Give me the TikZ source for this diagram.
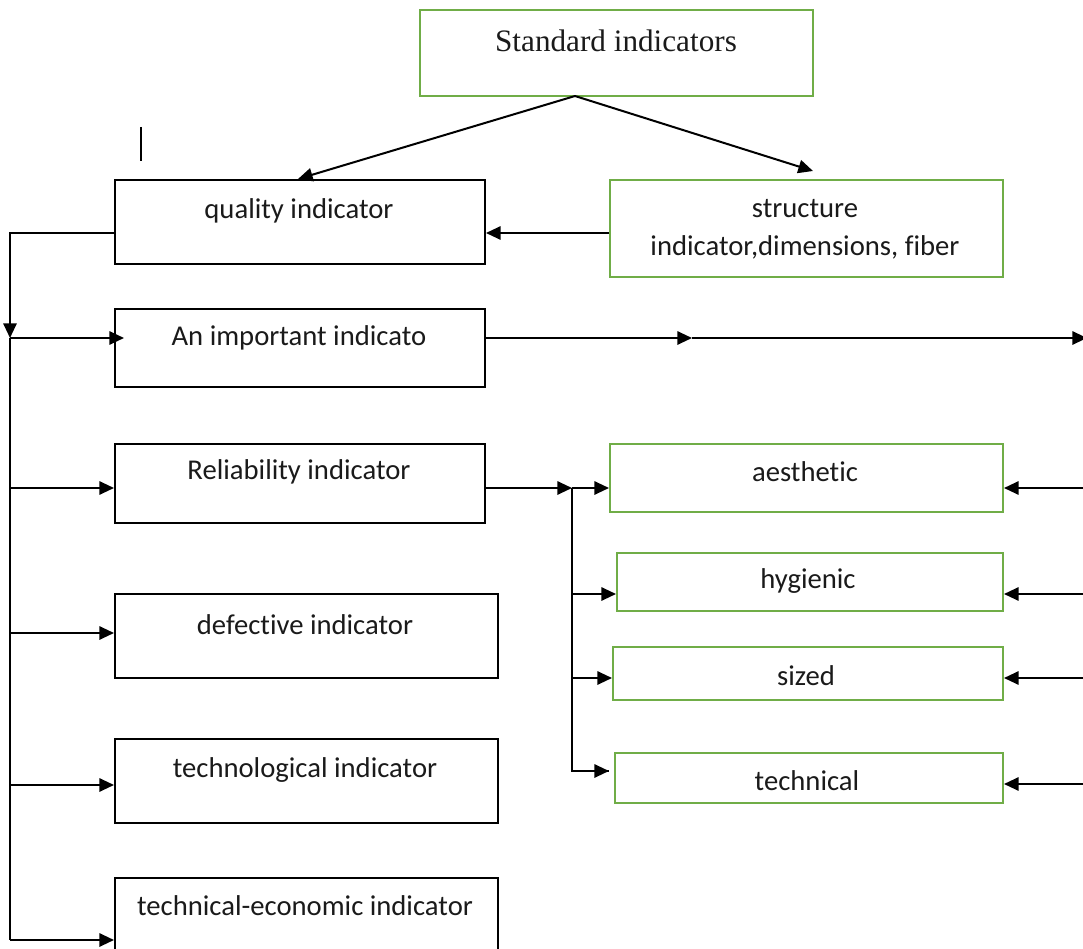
\documentclass[tikz,border=0pt]{standalone}
\usepackage{fontspec}
\setmainfont{Carlito}[Ligatures=NoCommon]
\newfontfamily\tnrfont{Liberation Serif}
\usetikzlibrary{arrows.meta,fit}
\definecolor{boxgreen}{HTML}{70AD47}
\definecolor{txt}{HTML}{1A1A1A}
\tikzset{
  blk/.style={draw=black, line width=1.5pt, inner sep=0pt},
  gbox/.style={draw=boxgreen, line width=1.5pt, inner sep=0pt},
  lbl/.style={font=\fontsize{21.5}{28.5}\selectfont, text=txt, inner sep=0pt, align=center},
  ln/.style={line width=1.5pt},
  arr/.style={ln, -{Triangle[length=11pt,width=10pt]}}
}
\begin{document}
\begin{tikzpicture}[x=0.75pt,y=-0.75pt]
\useasboundingbox (0,0) rectangle (1083,949);
% boxes
\node[gbox, fit={(420,10) (813,96)}] (std) {};
\node[blk, fit={(115,180) (485,264)}] (q) {};
\node[gbox, fit={(610,180) (1003,277)}] (s) {};
\node[blk, fit={(115,309) (485,387)}] (imp) {};
\node[blk, fit={(115,444) (485,523)}] (rel) {};
\node[blk, fit={(115,594) (498,678)}] (def) {};
\node[blk, fit={(115,739) (498,823)}] (tec) {};
\node[blk, fit={(115,878) (498,960)}] (te) {};
\node[gbox, fit={(610,444) (1003,512)}] (aes) {};
\node[gbox, fit={(617,553) (1003,611)}] (hyg) {};
\node[gbox, fit={(613,647) (1003,700)}] (siz) {};
\node[gbox, fit={(615,753) (1003,803)}] (tch) {};
% texts
\node[lbl, font=\tnrfont\fontsize{23.4}{28}\selectfont] (tstd) at (616,41) {Standard indicators};
\node[lbl] (tq) at (299,211) {quality indicator};
\node[lbl] (ts) at (805,229) {structure\\indicator,dimensions, fiber};
\node[lbl] (timp) at (299,338) {An important indicato};
\node[lbl] (trel) at (299,472) {Reliability indicator};
\node[lbl] (tdef) at (305,625) {defective indicator};
\node[lbl] (ttec) at (305,770) {technological indicator};
\node[lbl] (tte) at (305,906) {technical-economic indicator};
\node[lbl] (taes) at (805,472) {aesthetic};
\node[lbl] (thyg) at (808,581) {hygienic};
\node[lbl] (tsiz) at (806,676) {sized};
\node[lbl] (ttch) at (807,781) {technical};
% coordinates
\coordinate (sb) at (575,96);
\coordinate (qa) at (298,179);
\coordinate (sa) at (813,171);
\coordinate (bus) at (10,338);
\coordinate (mid) at (692,338);
\coordinate (redge) at (1087,338);
\coordinate (rb) at (572,488);
\coordinate (tend) at (609,771);
\coordinate (stray1) at (141,127);
\coordinate (stray2) at (141,161);
\coordinate (e1) at (1085,488);
\coordinate (e2) at (1085,594);
\coordinate (e3) at (1085,678);
\coordinate (e4) at (1085,784);
% stray mark
\draw[line width=1.1pt] (stray1) -- (stray2);
% top arrows
\draw[arr] (sb) -- (qa);
\draw[arr] (sb) -- (sa);
\draw[arr] (s.west |- 0,233) -- (q.east |- 0,233);
% left bus
\draw[arr] (q.west |- 0,233) -| (bus);
\draw[arr] (bus) -- (124,338);
\draw[ln] (bus) -- (10,940);
\draw[arr] (10,488) -- (rel.west |- 0,488);
\draw[arr] (10,633) -- (def.west |- 0,633);
\draw[arr] (10,785) -- (tec.west |- 0,785);
\draw[arr] (10,940) -- (te.west |- 0,940);
% important right
\draw[arr] (imp.east |- 0,338) -- (mid);
\draw[arr] (mid) -- (redge);
% reliability right
\draw[arr] (rel.east |- 0,488) -- (rb);
\draw[arr] (rb) -- (aes.west |- 0,488);
\draw[ln] (rb) |- (tend);
\draw[arr] (572,771) -- (tend);
\draw[arr] (572,594) -- (hyg.west |- 0,594);
\draw[arr] (572,678) -- (siz.west |- 0,678);
% right edge arrows
\draw[arr] (e1) -- (aes.east |- 0,488);
\draw[arr] (e2) -- (hyg.east |- 0,594);
\draw[arr] (e3) -- (siz.east |- 0,678);
\draw[arr] (e4) -- (tch.east |- 0,784);
\end{tikzpicture}
\end{document}
